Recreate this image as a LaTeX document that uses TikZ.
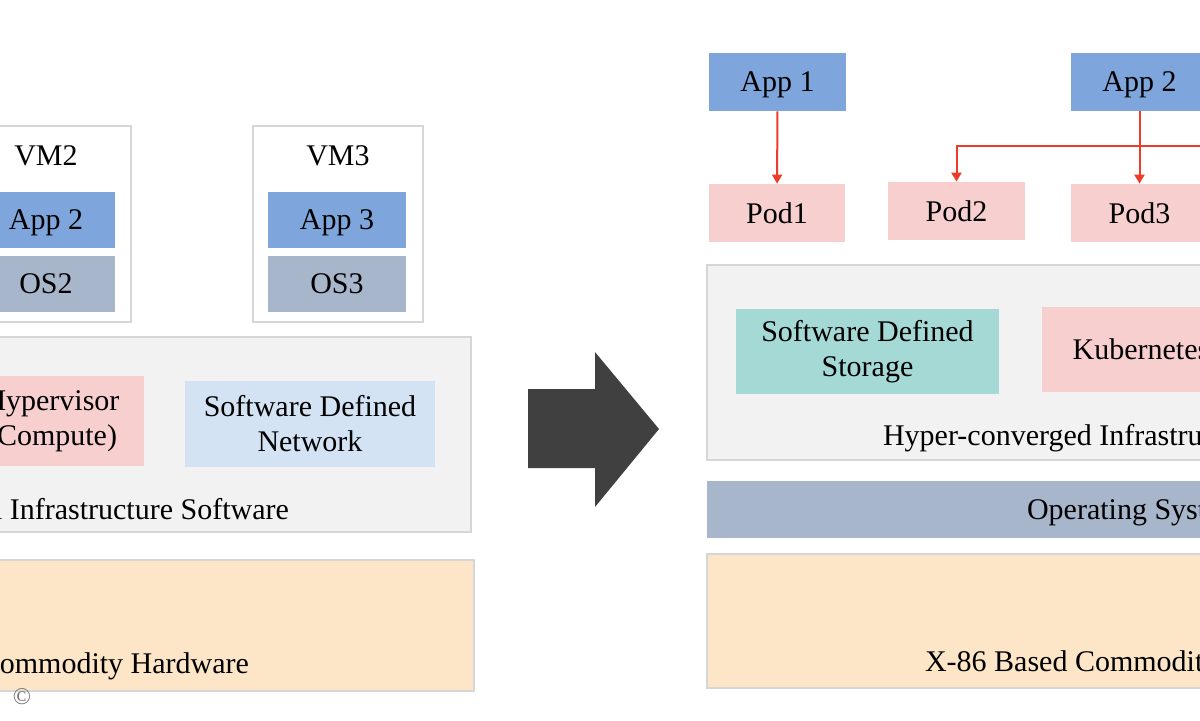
\documentclass[tikz,border=0pt]{standalone}
\usepackage{fontspec}
\setmainfont{Liberation Serif}
\usetikzlibrary{arrows.meta}
\definecolor{appblue}{HTML}{7EA6DC}
\definecolor{osgray}{HTML}{A8B6CC}
\definecolor{podpink}{HTML}{F8CFCF}
\definecolor{netblue}{HTML}{D4E3F3}
\definecolor{storteal}{HTML}{A4D9D5}
\definecolor{hwpeach}{HTML}{FDE6C8}
\definecolor{layergray}{HTML}{F2F2F2}
\definecolor{layerline}{HTML}{D6D6D6}
\definecolor{linkred}{HTML}{EE3B2A}
\definecolor{bigarrow}{HTML}{404040}
\begin{document}
\begin{tikzpicture}[x=0.5pt, y=-0.5pt,
		font=\fontsize{15}{17.5}\selectfont,
		blk/.style={rectangle, inner sep=0pt, align=center},
		layer/.style={blk, draw=layerline, fill=layergray, line width=0.8pt},
		vmbox/.style={blk, draw=layerline, fill=white, line width=0.8pt,
			minimum width=85pt, minimum height=98pt},
		appbox/.style={blk, fill=appblue, minimum height=28pt, text depth=0pt},
		osbox/.style={blk, fill=osgray, minimum width=69pt, minimum height=28pt},
		podbox/.style={blk, fill=podpink, minimum height=29pt},
		link/.style={draw=linkred, line width=1pt,
			-{Triangle[length=4.5pt, width=5pt]}},
	]
	\useasboundingbox (0,0) rectangle (1200,720);
	\clip (0,0) rectangle (1200,720);

	% left: virtual machines on infrastructure software
	\node[vmbox] (vm2) at (46,224) {};
	\node[vmbox] (vm3) at (338,224) {};
	\node (vm2l) at (46,156) {VM2};
	\node (vm3l) at (338,156) {VM3};
	\node[appbox, minimum width=69pt] (a2l) at (46,220) {App 2};
	\node[appbox, minimum width=69pt] (a3l) at (337,220) {App 3};
	\node[osbox] (os2) at (46,284) {OS2};
	\node[osbox] (os3) at (337,284) {OS3};

	\node[layer, minimum width=355.5pt, minimum height=97.5pt] (vis) at (115.5,434.5) {};
	\node[blk, fill=podpink, minimum width=92pt, minimum height=45pt] (hyp) at (52,421) {Hypervisor\\(Compute)};
	\node[blk, fill=netblue, minimum width=125pt, minimum height=43pt] (sdn) at (310,424) {Software Defined\\Network};
	\node[anchor=east] (visl) at (296,509) {Virtual Infrastructure Software};

	\node[blk, fill=hwpeach, draw=layerline, line width=0.8pt,
		minimum width=357pt, minimum height=65.5pt] (hwl) at (117,625.5) {};
	\node[anchor=east] (hwll) at (256,666) {Commodity Hardware};
	\node[text=black!55, font=\fontsize{12}{12}\selectfont] (copy) at (22,697) {\textcopyright};

	% transition
	\fill[bigarrow] (528,389) -- (595,389) -- (595,352) -- (659,429)
		-- (595,507) -- (595,468) -- (528,468) -- cycle;

	% right: containers on hyper-converged infrastructure
	\node[appbox, minimum width=68.5pt, minimum height=29pt] (a1) at (777.5,82) {App 1};
	\node[appbox, minimum width=68.5pt, minimum height=29pt] (a2) at (1139.5,82) {App 2};
	\node[podbox, minimum width=68pt] (p1) at (777,213) {Pod1};
	\node[podbox, minimum width=68.5pt] (p2) at (956.5,211) {Pod2};
	\node[podbox, minimum width=68.5pt] (p3) at (1139.5,213) {Pod3};
	\coordinate (pout) at (1230,146);

	\draw[link] (a1) -- (p1);
	\draw[link] (a2) -- (p3);
	\draw[link] (pout) -| (p2);

	\node[layer, minimum width=356.5pt, minimum height=97.5pt] (hci) at (1063.5,362.5) {};
	\node[blk, fill=storteal, minimum width=131.5pt, minimum height=42.5pt] (sds) at (867.5,351.5) {Software Defined\\Storage};
	\node[blk, fill=podpink, minimum width=99pt, minimum height=42.5pt] (kube) at (1141,349.5) {Kubernetes};
	\node[anchor=west] (hcil) at (876,438) {Hyper-converged Infrastructure};

	\node[blk, fill=osgray, minimum width=356.5pt, minimum height=28.5pt] (osr) at (1063.5,509.5) {};
	\node[anchor=west] (osrl) at (1020,513) {Operating System};

	\node[blk, fill=hwpeach, draw=layerline, line width=0.8pt,
		minimum width=356.5pt, minimum height=67pt] (hwr) at (1063.5,621) {};
	\node[anchor=west] (hwrl) at (918,664) {X-86 Based Commodity Hardware};
\end{tikzpicture}
\end{document}
